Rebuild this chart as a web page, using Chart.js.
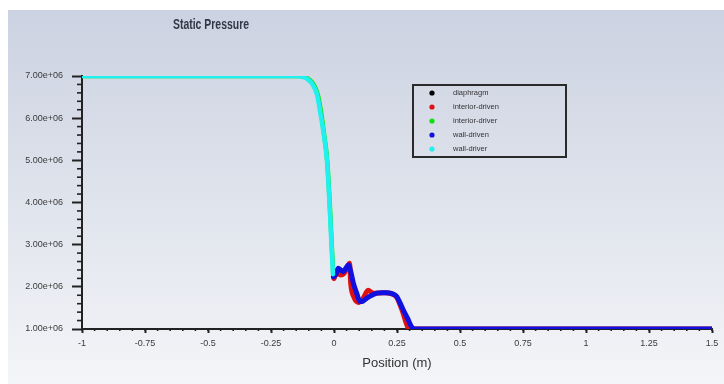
<!DOCTYPE html>
<html>
<head>
<meta charset="utf-8">
<script src="https://cdn.jsdelivr.net/npm/chart.js@4.4.1/dist/chart.umd.min.js"></script>
<style>
html,body{margin:0;padding:0;background:#fff;}
#wrap{width:724px;height:384px;position:relative;}
</style>
</head>
<body>
<div id="wrap"><canvas id="c" width="724" height="384"></canvas></div>
<script>
// ---- data ----
const chartTitle = "Static Pressure";
const xTitle = "Position (m)";
const seriesNames = ["diaphragm", "interior-driven", "interior-driver", "wall-driven", "wall-driver"];
const seriesColors = ["#000000", "#e01010", "#10e010", "#1010e0", "#20f0f0"];

const diaphragmX = [0];
const diaphragmY = [2.25e6];

const interiorDrivenX = [0, 0.012, 0.025, 0.04, 0.055, 0.062, 0.066, 0.078, 0.097, 0.115, 0.135, 0.155, 0.2, 0.245, 0.27, 0.295, 0.302, 1.5];
const interiorDrivenY = [2.2e6, 2.35e6, 2.28e6, 2.32e6, 2.5e6, 2.56e6, 2.1e6, 1.77e6, 1.63e6, 1.72e6, 1.92e6, 1.85e6, 1.86e6, 1.78e6, 1.45e6, 1.02e6, 1.0e6, 1.0e6];

const interiorDriverX = [-1, -0.14, -0.115, -0.095, -0.079, -0.064, -0.049, -0.039, -0.027, -0.017, -0.009, -0.003];
const interiorDriverY = [7.0e6, 7.0e6, 6.97e6, 6.9e6, 6.78e6, 6.55e6, 6.05e6, 5.6e6, 5.0e6, 4.0e6, 3.0e6, 2.3e6];

const wallDrivenX = [-0.002, 0.008, 0.017, 0.027, 0.037, 0.048, 0.057, 0.067, 0.077, 0.09, 0.103, 0.115, 0.13, 0.15, 0.17, 0.19, 0.209, 0.23, 0.249, 0.262, 0.275, 0.292, 0.308, 0.321, 1.5];
const wallDrivenY = [2.24e6, 2.3e6, 2.44e6, 2.4e6, 2.36e6, 2.45e6, 2.52e6, 2.35e6, 2.08e6, 1.85e6, 1.65e6, 1.66e6, 1.73e6, 1.8e6, 1.85e6, 1.86e6, 1.86e6, 1.84e6, 1.77e6, 1.62e6, 1.45e6, 1.25e6, 1.05e6, 1.0e6, 1.0e6];

const wallDriverX = [-1, -0.15, -0.12, -0.1, -0.083, -0.067, -0.052, -0.04, -0.028, -0.018, -0.01, -0.004];
const wallDriverY = [7.0e6, 7.0e6, 6.97e6, 6.9e6, 6.78e6, 6.55e6, 6.05e6, 5.6e6, 5.0e6, 4.0e6, 3.0e6, 2.3e6];

const xMin = -1, xMax = 1.5, xStep = 0.25;
const yMin = 1e6, yMax = 7e6, yStep = 1e6;

// ---- build ----
function pts(xs, ys){ return xs.map((x,i)=>({x:x, y:ys[i]})); }
const allX = [diaphragmX, interiorDrivenX, interiorDriverX, wallDrivenX, wallDriverX];
const allY = [diaphragmY, interiorDrivenY, interiorDriverY, wallDrivenY, wallDriverY];
const widths = [0, 5, 4.5, 5, 4.5];
const orders = [4, 3, 2, 1, 0];

const datasets = seriesNames.map((n,i)=>({
  label: n,
  data: pts(allX[i], allY[i]),
  borderColor: seriesColors[i],
  backgroundColor: seriesColors[i],
  borderWidth: widths[i],
  pointRadius: i===0 ? 3 : 0,
  tension: 0.3,
  cubicInterpolationMode: 'monotone',
  borderCapStyle: 'round',
  borderJoinStyle: 'round',
  order: orders[i],
  fill: false
}));

const bgPlugin = {
  id: 'bg',
  beforeDraw(chart){
    const ctx = chart.ctx;
    ctx.save();
    ctx.fillStyle = '#ffffff';
    ctx.fillRect(0,0,chart.width,chart.height);
    const g = ctx.createLinearGradient(0,10,0,chart.height);
    g.addColorStop(0,'#cbd2e1');
    g.addColorStop(0.5,'#dfe3ec');
    g.addColorStop(1,'#f4f5f8');
    ctx.fillStyle = g;
    ctx.fillRect(8,10,chart.width-8,chart.height-10);
    ctx.restore();
  }
};

const decoPlugin = {
  id: 'deco',
  afterDraw(chart){
    const ctx = chart.ctx;
    const xs = chart.scales.x, ys = chart.scales.y;
    const area = chart.chartArea;
    ctx.save();
    // minor ticks
    ctx.strokeStyle = '#222';
    ctx.lineWidth = 1.6;
    for (let v = yMin; v <= yMax + 1; v += yStep/5){
      if (Math.abs(v/yStep - Math.round(v/yStep)) < 1e-6) continue;
      const py = ys.getPixelForValue(v);
      ctx.beginPath(); ctx.moveTo(area.left-5, py); ctx.lineTo(area.left, py); ctx.stroke();
    }
    for (let k = 0; k <= Math.round((xMax-xMin)/0.05); k++){
      const v = xMin + k*0.05;
      const px = xs.getPixelForValue(v);
      ctx.beginPath(); ctx.moveTo(px, area.bottom); ctx.lineTo(px, area.bottom+2); ctx.stroke();
    }
    // title (condensed look)
    ctx.fillStyle = '#323846';
    ctx.font = 'bold 14px "Liberation Sans", sans-serif';
    ctx.textAlign = 'center';
    ctx.textBaseline = 'middle';
    const w = ctx.measureText(chartTitle).width;
    ctx.save();
    ctx.translate(211, 25);
    ctx.scale(76 / w, 1);
    ctx.fillText(chartTitle, 0, 0);
    ctx.restore();
    // legend box
    const lx = 413, ly = 85, lw = 153, lh = 72;
    ctx.strokeStyle = '#2a2a2a';
    ctx.lineWidth = 2;
    ctx.strokeRect(lx, ly, lw, lh);
    ctx.font = '7.5px "Liberation Sans", sans-serif';
    ctx.textAlign = 'left';
    chart.data.datasets.forEach((ds, i) => {
      const cy = 93 + i*14;
      ctx.fillStyle = ds.borderColor;
      ctx.beginPath(); ctx.arc(432, cy, 2.6, 0, Math.PI*2); ctx.fill();
      ctx.fillStyle = '#333';
      ctx.fillText(ds.label, 453, cy);
    });
    ctx.restore();
  }
};

new Chart(document.getElementById('c'), {
  type: 'line',
  data: { datasets: datasets },
  plugins: [bgPlugin, decoPlugin],
  options: {
    responsive: false,
    animation: false,
    layout: { padding: { left: 0, right: 12, top: 76, bottom: 0 } },
    plugins: { legend: { display: false }, title: { display: false }, tooltip: { enabled: false } },
    scales: {
      x: {
        type: 'linear', min: xMin, max: xMax,
        afterFit(s){ s.height = 55; },
        border: { display: true, color: '#222', width: 2 },
        grid: { display: true, drawOnChartArea: false, drawTicks: true, tickLength: 4, tickColor: '#222', tickWidth: 2 },
        ticks: { stepSize: xStep, padding: 5, color: '#3a3a3a', font: { family: '"Liberation Sans", sans-serif', size: 9 }, maxRotation: 0, autoSkip: false,
          callback: v => String(+v.toFixed(2)) },
        title: { display: true, text: xTitle, color: '#333', font: { family: '"Liberation Sans", sans-serif', size: 13 }, padding: { top: 4, bottom: 13 } }
      },
      y: {
        type: 'linear', min: yMin, max: yMax,
        afterFit(s){ s.width = 82; },
        border: { display: true, color: '#222', width: 2 },
        grid: { display: true, drawOnChartArea: false, drawTicks: true, tickLength: 10, tickColor: '#222', tickWidth: 2 },
        ticks: { stepSize: yStep, padding: 9, color: '#3a3a3a', font: { family: '"Liberation Sans", sans-serif', size: 9 },
          callback: v => v.toExponential(2).replace(/e\+(\d)$/, 'e+0$1') }
      }
    }
  }
});
</script>
</body>
</html>
